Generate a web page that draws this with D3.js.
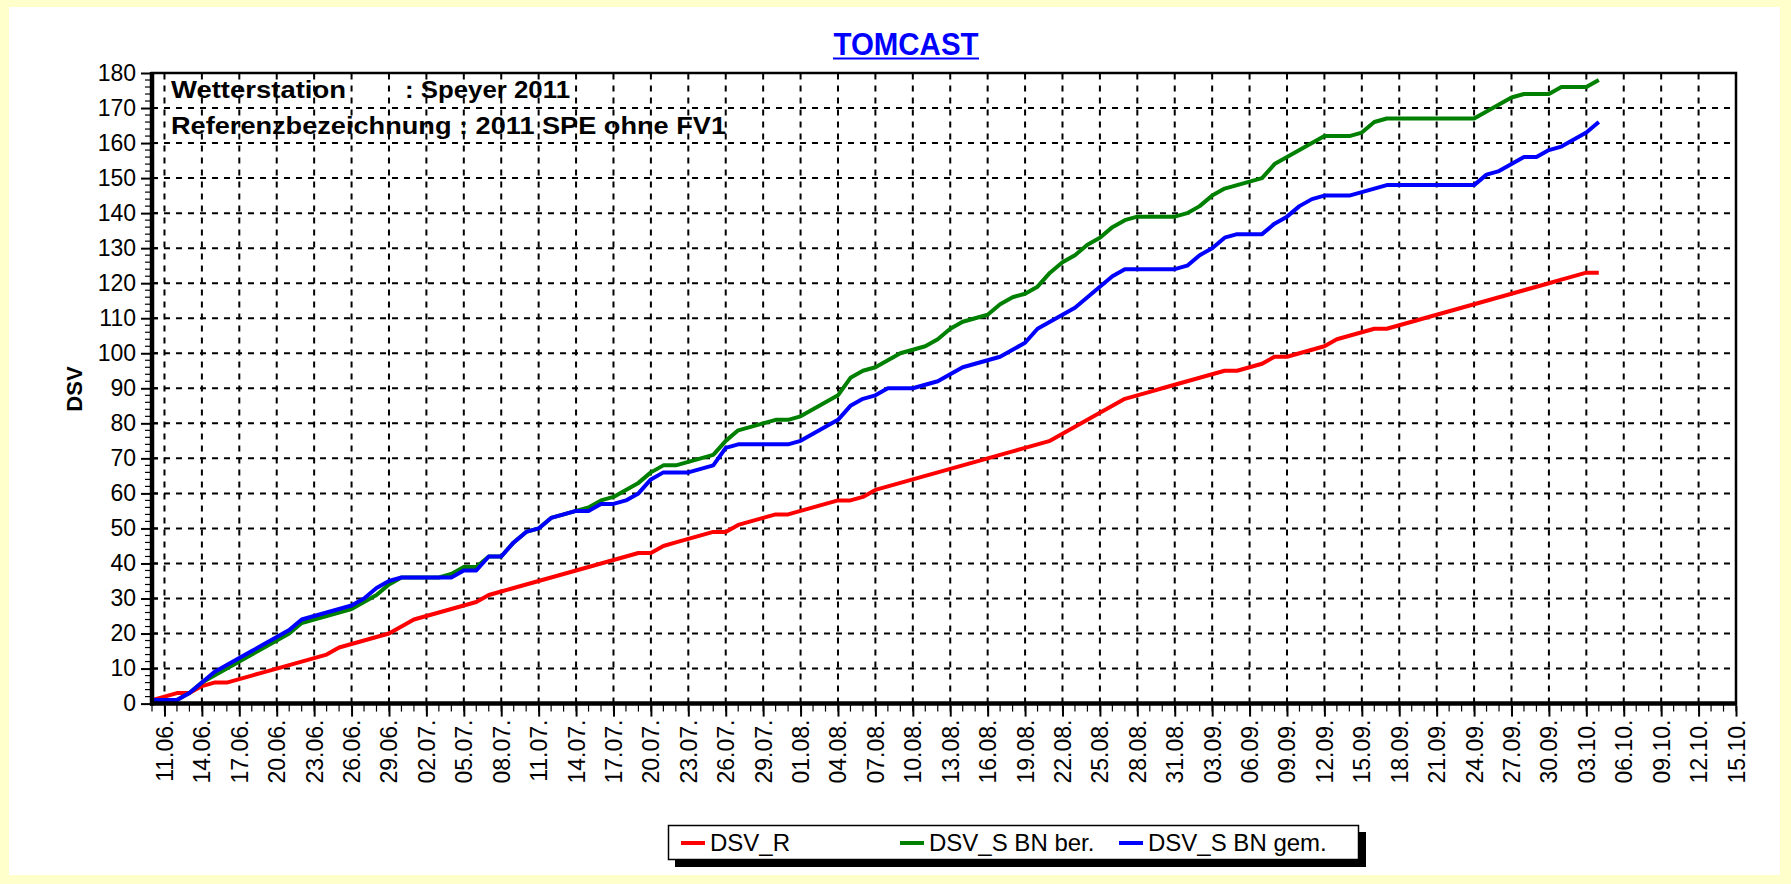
<!DOCTYPE html>
<html>
<head>
<meta charset="utf-8">
<script src="https://cdn.jsdelivr.net/npm/d3@7"></script>
<style>
  html, body { margin: 0; padding: 0; background: #FFFFCC; }
  svg { display: block; }
  text { font-family: "Liberation Sans", Arial, sans-serif; }
</style>
</head>
<body>
<svg id="chart" width="1791" height="884"></svg>
<script>
// ---------------- DATA ----------------
const chartTitle = "TOMCAST";
const yAxisTitle = "DSV";
const infoLine1a = "Wetterstation";
const infoLine1b = ": Speyer 2011";
const infoLine2 = "Referenzbezeichnung : 2011 SPE ohne FV1";

// first day of the series (10.06.2011), one value per day
const seriesStart = "10.06.2011";
const axisStart = "10.06.2011";
const axisEnd = "15.10.2011";

const seriesNames = ["DSV_R", "DSV_S BN ber.", "DSV_S BN gem."];
const seriesColors = ["#FF0000", "#008000", "#0000FF"];

const dsvR = [
  1, 2, 3, 3, 5, 6, 6, 7, 8, 9, 10, 11, 12, 13, 14, 16, 17, 18, 19, 20,
  22, 24, 25, 26, 27, 28, 29, 31, 32, 33, 34, 35, 36, 37, 38, 39, 40, 41, 42, 43,
  43, 45, 46, 47, 48, 49, 49, 51, 52, 53, 54, 54, 55, 56, 57, 58, 58, 59, 61, 62,
  63, 64, 65, 66, 67, 68, 69, 70, 71, 72, 73, 74, 75, 77, 79, 81, 83, 85, 87, 88,
  89, 90, 91, 92, 93, 94, 95, 95, 96, 97, 99, 99, 100, 101, 102, 104, 105, 106, 107, 107,
  108, 109, 110, 111, 112, 113, 114, 115, 116, 117, 118, 119, 120, 121, 122, 123, 123
];
const dsvSBer = [
  1, 1, 1, 3, 6, 8, 10, 12, 14, 16, 18, 20, 23, 24, 25, 26, 27, 29, 31, 34,
  36, 36, 36, 36, 37, 39, 39, 42, 42, 46, 49, 50, 53, 54, 55, 56, 58, 59, 61, 63,
  66, 68, 68, 69, 70, 71, 75, 78, 79, 80, 81, 81, 82, 84, 86, 88, 93, 95, 96, 98,
  100, 101, 102, 104, 107, 109, 110, 111, 114, 116, 117, 119, 123, 126, 128, 131, 133, 136, 138, 139,
  139, 139, 139, 140, 142, 145, 147, 148, 149, 150, 154, 156, 158, 160, 162, 162, 162, 163, 166, 167,
  167, 167, 167, 167, 167, 167, 167, 169, 171, 173, 174, 174, 174, 176, 176, 176, 178
];
const dsvSGem = [
  1, 1, 1, 3, 6, 9, 11, 13, 15, 17, 19, 21, 24, 25, 26, 27, 28, 30, 33, 35,
  36, 36, 36, 36, 36, 38, 38, 42, 42, 46, 49, 50, 53, 54, 55, 55, 57, 57, 58, 60,
  64, 66, 66, 66, 67, 68, 73, 74, 74, 74, 74, 74, 75, 77, 79, 81, 85, 87, 88, 90,
  90, 90, 91, 92, 94, 96, 97, 98, 99, 101, 103, 107, 109, 111, 113, 116, 119, 122, 124, 124,
  124, 124, 124, 125, 128, 130, 133, 134, 134, 134, 137, 139, 142, 144, 145, 145, 145, 146, 147, 148,
  148, 148, 148, 148, 148, 148, 148, 151, 152, 154, 156, 156, 158, 159, 161, 163, 166
];

const xTickLabels = [
  "11.06.", "14.06.", "17.06.", "20.06.", "23.06.", "26.06.", "29.06.",
  "02.07.", "05.07.", "08.07.", "11.07.", "14.07.", "17.07.", "20.07.", "23.07.", "26.07.", "29.07.",
  "01.08.", "04.08.", "07.08.", "10.08.", "13.08.", "16.08.", "19.08.", "22.08.", "25.08.", "28.08.", "31.08.",
  "03.09.", "06.09.", "09.09.", "12.09.", "15.09.", "18.09.", "21.09.", "24.09.", "27.09.", "30.09.",
  "03.10.", "06.10.", "09.10.", "12.10.", "15.10."
];
const yTickValues = [0, 10, 20, 30, 40, 50, 60, 70, 80, 90, 100, 110, 120, 130, 140, 150, 160, 170, 180];

// ---------------- DRAW ----------------
const parseFull = d3.timeParse("%d.%m.%Y");
const parseTick = s => d3.timeParse("%d.%m.%Y")(s + "2011");

const svg = d3.select("#chart");
const W = 1791, H = 884;
const M = { left: 152, right: 1736, top: 73, bottom: 703.6 };

// backgrounds
svg.append("rect").attr("x", 0).attr("y", 0).attr("width", W).attr("height", H).attr("fill", "#FFFFCC");
svg.append("rect").attr("x", 9).attr("y", 7).attr("width", 1771).attr("height", 868).attr("fill", "#FFFFFF");

const x = d3.scaleTime().domain([parseFull(axisStart), parseFull(axisEnd)]).range([M.left, M.right]);
const y = d3.scaleLinear().domain([0, 180]).range([M.bottom, M.top]);

const start = parseFull(seriesStart);
const toPoints = arr => arr.map((v, i) => ({ date: d3.timeDay.offset(start, i), value: v }));

// title
const title = svg.append("text")
  .attr("x", 906).attr("y", 55)
  .attr("text-anchor", "middle")
  .attr("font-size", 31).attr("font-weight", "bold")
  .attr("fill", "#0000FF")
  .attr("textLength", 145).attr("lengthAdjust", "spacingAndGlyphs")
  .text(chartTitle);
svg.append("line").attr("x1", 833).attr("x2", 979).attr("y1", 58.5).attr("y2", 58.5)
  .attr("stroke", "#0000FF").attr("stroke-width", 2);

// grid
const gridG = svg.append("g");
const gridDates = xTickLabels.map(parseTick).filter(d => x(d) < M.right - 2);
gridG.selectAll("line.vg").data(gridDates).join("line")
  .attr("x1", d => x(d)).attr("x2", d => x(d))
  .attr("y1", M.bottom).attr("y2", M.top)
  .attr("stroke", "#000").attr("stroke-width", 2).attr("stroke-dasharray", "6,6");
gridG.selectAll("line.hg").data(yTickValues.filter(v => v > 0 && v < 180)).join("line")
  .attr("x1", M.left).attr("x2", M.right)
  .attr("y1", d => y(d)).attr("y2", d => y(d))
  .attr("stroke", "#000").attr("stroke-width", 2).attr("stroke-dasharray", "6,6");

// info text
const infoG = svg.append("g").attr("font-weight", "bold").attr("font-size", 24).attr("fill", "#000");
infoG.append("text").attr("x", 171).attr("y", 98).attr("textLength", 175).attr("lengthAdjust", "spacingAndGlyphs").text(infoLine1a);
infoG.append("text").attr("x", 405).attr("y", 98).attr("textLength", 165).attr("lengthAdjust", "spacingAndGlyphs").text(infoLine1b);
infoG.append("text").attr("x", 171).attr("y", 134).attr("textLength", 555).attr("lengthAdjust", "spacingAndGlyphs").text(infoLine2);

// series
const line = d3.line().x(d => x(d.date)).y(d => y(d.value));
const allSeries = [dsvR, dsvSBer, dsvSGem];
allSeries.forEach((arr, i) => {
  svg.append("path").datum(toPoints(arr))
    .attr("fill", "none")
    .attr("stroke", seriesColors[i])
    .attr("stroke-width", 4)
    .attr("stroke-linejoin", "round")
    .attr("d", line);
});

// frame
svg.append("rect").attr("x", M.left).attr("y", M.top).attr("width", M.right - M.left).attr("height", M.bottom - M.top)
  .attr("fill", "none").attr("stroke", "#000").attr("stroke-width", 2.5);
svg.append("line").attr("x1", M.left).attr("x2", M.left).attr("y1", M.top - 1).attr("y2", M.bottom + 2)
  .attr("stroke", "#000").attr("stroke-width", 4.5);
svg.append("line").attr("x1", M.left - 2).attr("x2", M.right + 1).attr("y1", M.bottom).attr("y2", M.bottom)
  .attr("stroke", "#000").attr("stroke-width", 4.5);

// y axis
const yAxis = d3.axisLeft(y).tickValues(yTickValues).tickSize(9).tickPadding(5).tickFormat(d3.format("d"));
const yAx = svg.append("g").attr("transform", `translate(${M.left - 2},0)`).call(yAxis);
yAx.select(".domain").remove();
yAx.selectAll(".tick line").attr("stroke", "#000").attr("stroke-width", 2);
yAx.selectAll(".tick text").attr("font-size", 23).attr("fill", "#000")
  .attr("font-family", "'Liberation Sans', Arial, sans-serif");
// minor y ticks
const yMinor = d3.range(0, 181, 2).filter(v => v % 10 !== 0);
svg.append("g").selectAll("line").data(yMinor).join("line")
  .attr("x1", M.left - 7).attr("x2", M.left).attr("y1", d => y(d)).attr("y2", d => y(d))
  .attr("stroke", "#000").attr("stroke-width", 1.2);
// short inner marks at major ticks
svg.append("g").selectAll("line").data(yTickValues.filter(v => v > 0 && v < 180)).join("line")
  .attr("x1", M.left).attr("x2", M.left + 6).attr("y1", d => y(d)).attr("y2", d => y(d))
  .attr("stroke", "#000").attr("stroke-width", 2);

// y title
svg.append("text")
  .attr("transform", "translate(82,389) rotate(-90)")
  .attr("text-anchor", "middle")
  .attr("font-size", 22).attr("font-weight", "bold").attr("fill", "#000")
  .text(yAxisTitle);

// x axis
const xMajor = xTickLabels.map(parseTick);
const xAxis = d3.axisBottom(x).tickValues(xMajor).tickSize(11).tickFormat((d, i) => xTickLabels[i]);
const xAx = svg.append("g").attr("transform", `translate(0,${M.bottom + 2})`).call(xAxis);
xAx.select(".domain").remove();
xAx.selectAll(".tick line").attr("stroke", "#000").attr("stroke-width", 2);
xAx.selectAll(".tick text")
  .attr("font-size", 23).attr("fill", "#000")
  .attr("font-family", "'Liberation Sans', Arial, sans-serif")
  .attr("text-anchor", "end")
  .attr("dominant-baseline", "central")
  .attr("dy", null)
  .attr("y", 0).attr("x", -14)
  .attr("transform", "rotate(-90)");
// minor x ticks (daily)
const xMinor = d3.timeDay.range(parseFull(axisStart), d3.timeDay.offset(parseFull(axisEnd), 1));
svg.append("g").selectAll("line").data(xMinor).join("line")
  .attr("x1", d => x(d)).attr("x2", d => x(d))
  .attr("y1", M.bottom).attr("y2", M.bottom + 8)
  .attr("stroke", "#000").attr("stroke-width", 1.2);

// legend
const lg = svg.append("g");
lg.append("rect").attr("x", 675).attr("y", 832).attr("width", 691).attr("height", 35).attr("fill", "#000");
lg.append("rect").attr("x", 668.5).attr("y", 825.5).attr("width", 690).attr("height", 34)
  .attr("fill", "#fff").attr("stroke", "#000").attr("stroke-width", 1.5);
const legendX = [681, 900, 1119];
seriesNames.forEach((name, i) => {
  lg.append("line").attr("x1", legendX[i]).attr("x2", legendX[i] + 24)
    .attr("y1", 843).attr("y2", 843)
    .attr("stroke", seriesColors[i]).attr("stroke-width", 4);
  lg.append("text").attr("x", legendX[i] + 29).attr("y", 851)
    .attr("font-size", 24).attr("fill", "#000").text(name);
});
</script>
</body>
</html>
